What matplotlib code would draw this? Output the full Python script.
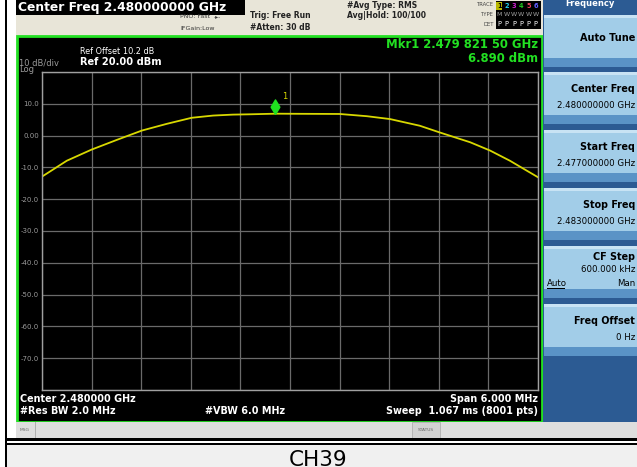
import matplotlib
matplotlib.use('Agg')
import matplotlib.pyplot as plt
from matplotlib.patches import Rectangle
from matplotlib.path import Path

# trace: offset from centre (MHz) and level (dBm)
center_ghz = 2.48
offset_mhz = [-3.0, -2.7, -2.4, -2.09, -1.79, -1.49, -1.19, -0.93, -0.69, -0.48,
              -0.17, 0.12, 0.6, 0.93, 1.21, 1.57, 1.81, 2.18, 2.42, 2.66, 3.0]
level_dbm = [-12.9, -7.9, -4.4, -1.3, 1.6, 3.7, 5.6, 6.3, 6.6, 6.7,
             6.89, 6.85, 6.8, 6.1, 5.2, 3.1, 1.0, -2.1, -4.7, -7.9, -13.1]
mkr_freq_ghz = 2.4798215
mkr_level = 6.89

ytick_vals = [20, 10, 0, -10, -20, -30, -40, -50, -60, -70, -80]
ytick_text = ['', '10.0', '0.00', '-10.0', '-20.0', '-30.0', '-40.0',
              '-50.0', '-60.0', '-70.0', '']

softkeys = [('Auto Tune', []),
            ('Center Freq', ['2.480000000 GHz']),
            ('Start Freq', ['2.477000000 GHz']),
            ('Stop Freq', ['2.483000000 GHz']),
            ('CF Step', ['600.000 kHz', 'Man']),
            ('Freq Offset', ['0 Hz'])]

W, H = 637, 467
GREEN = '#22e022'
fig = plt.figure(figsize=(W / 100, H / 100), dpi=100)
fig.patch.set_facecolor('white')
bg = fig.add_axes([0, 0, 1, 1])
bg.set_xlim(0, W)
bg.set_ylim(H, 0)
bg.axis('off')


def box(x0, y0, x1, y1, color, **kw):
    bg.add_patch(Rectangle((x0, y0), x1 - x0, y1 - y0, facecolor=color,
                           edgecolor=kw.pop('ec', 'none'), **kw))


def txt(x, y, s, size, color='white', ha='left', weight='normal', **kw):
    bg.text(x, y, s, fontsize=size, color=color, ha=ha, va='center',
            fontweight=weight, **kw)


# frame pieces
box(5, 0, 7, H, 'black')
box(16, 0, 543, 36, '#e8e5d8')
box(16, 0, 245, 15, 'black')
box(17, 36, 542, 422, 'black', ec=GREEN, lw=2)
box(543, 0, W, 422, '#2c5b93')
box(16, 422, W, 438, '#dedede')
box(35, 422, 36, 438, '#b0b0b0')
box(412, 422, 440, 438, '#d2d2d2', ec='#b0b0b0', lw=0.6)
box(5, 438, W, 441, 'black')
box(5, 443, W, 445, 'black')
box(7, 445, W, 467, '#f0f0f0')
txt(20, 430, 'MSG', 3.2, color='#666666')
txt(426, 430, 'STATUS', 3.2, color='#666666', ha='center')
bg.text(318, 466.5, 'CH39', fontsize=15.5, color='black', ha='center', va='baseline')

# header
txt(18, 8, 'Center Freq 2.480000000 GHz', 8.8, weight='bold')
txt(180, 17, 'PNO: Fast', 4.5, color='#333333')
txt(180, 29, 'IFGain:Low', 4.5, color='#333333')
txt(214, 17, '-\u25b8-', 4.2, color='#333333')
txt(250, 16, 'Trig: Free Run', 5.5, color='#222222', weight='bold')
txt(250, 28, '#Atten: 30 dB', 5.5, color='#222222', weight='bold')
txt(347, 6, '#Avg Type: RMS', 5.5, color='#222222', weight='bold')
txt(347, 16, 'Avg|Hold: 100/100', 5.5, color='#222222', weight='bold')
for yy, s in [(5, 'TRACE'), (15, 'TYPE'), (24, 'DET')]:
    txt(494, yy, s, 3.8, color='#444444', ha='right')
box(496, 1, 541, 29, 'black')
box(496, 1.5, 502, 9.5, '#b8b800')
trace_cols = ['black', '#20d0f0', '#d020d0', '#20c020', '#f04060', '#6060ff']
for i, c in enumerate(trace_cols):
    x = 499.3 + i * 7.3
    txt(x, 6, str(i + 1), 4.8, color=c, ha='center', weight='bold')
    txt(x, 15, 'M' if i == 0 else 'W', 4.5, color='#a0a0a0', ha='center')
    txt(x, 24, 'P', 4.8, color='white', ha='center')

# soft key panel
txt(590, 4, 'Frequency', 6, ha='center', weight='bold')
for i, (title, subs) in enumerate(softkeys):
    top = 15 if i == 0 else 72 + 58 * (i - 1)
    box(544, top, W, top + 43, '#a2cde8')
    box(544, top, W, top + 3, '#c8e3f4')
    box(544, top + 43, W, top + 52, '#5a93c6')
    if i == 0:
        txt(635, top + 23, title, 7, color='black', ha='right', weight='bold')
    elif len(subs) == 2:
        txt(635, top + 11.5, title, 6.9, color='black', ha='right', weight='bold')
        txt(635, top + 24, subs[0], 6.2, color='black', ha='right')
        txt(635, top + 37.5, subs[1], 6.2, color='black', ha='right')
        txt(547, top + 37.5, 'Auto', 6.2, color='black')
        box(547, top + 42, 565, top + 42.6, 'black')
    else:
        txt(635, top + 17, title, 6.9, color='black', ha='right', weight='bold')
        txt(635, top + 33, subs[0], 6.2, color='black', ha='right')

# labels inside the screen
txt(19, 62.5, '10 dB/div', 6, color='#9a9a9a')
txt(19, 70, 'Log', 6, color='#9a9a9a')
txt(80, 51.5, 'Ref Offset 10.2 dB', 5.9)
txt(80, 62, 'Ref 20.00 dBm', 7.1, weight='bold')
txt(538, 44, 'Mkr1 2.479 821 50 GHz', 8.4, color=GREEN, ha='right', weight='bold')
txt(538, 58, '6.890 dBm', 8.4, color=GREEN, ha='right', weight='bold')
txt(20, 398.5, 'Center 2.480000 GHz', 6.9, weight='bold')
txt(20, 410.5, '#Res BW 2.0 MHz', 6.9, weight='bold')
txt(205, 410.5, '#VBW 6.0 MHz', 6.9, weight='bold')
txt(538, 398.5, 'Span 6.000 MHz', 6.9, ha='right', weight='bold')
txt(538, 410.5, 'Sweep  1.067 ms (8001 pts)', 6.9, ha='right', weight='bold')

# graticule and trace
ax = fig.add_axes([42 / W, 1 - 390 / H, 496 / W, 318 / H])
ax.set_facecolor('black')
freq = [center_ghz + o / 1000 for o in offset_mhz]
ax.plot(freq, level_dbm, color='#d8d800', lw=1.3)
diamond = Path([(0, 0), (-0.6, 1), (0, 2), (0.6, 1), (0, 0)])
ax.plot([mkr_freq_ghz], [mkr_level], marker=diamond, markersize=21,
        color='#20e020', linestyle='none')
ax.annotate('1', (mkr_freq_ghz, mkr_level), xytext=(5, 9),
            textcoords='offset points', color='#d8d800', fontsize=6,
            ha='left', va='bottom')
ax.set_xlim(center_ghz - 0.003, center_ghz + 0.003)
ax.set_ylim(-80, 20)
ax.set_xticks([center_ghz - 0.003 + 0.0006 * k for k in range(11)])
ax.set_xticklabels([])
ax.set_yticks(ytick_vals)
ax.set_yticklabels(ytick_text)
ax.tick_params(length=0, pad=2, labelsize=5, labelcolor='#9a9a9a')
ax.grid(True, color='#6a6a6a', lw=0.9)
ax.set_axisbelow(True)
for sp in ax.spines.values():
    sp.set_color('#a0a0a0')
    sp.set_linewidth(1)

fig.savefig('out.png', dpi=100)
